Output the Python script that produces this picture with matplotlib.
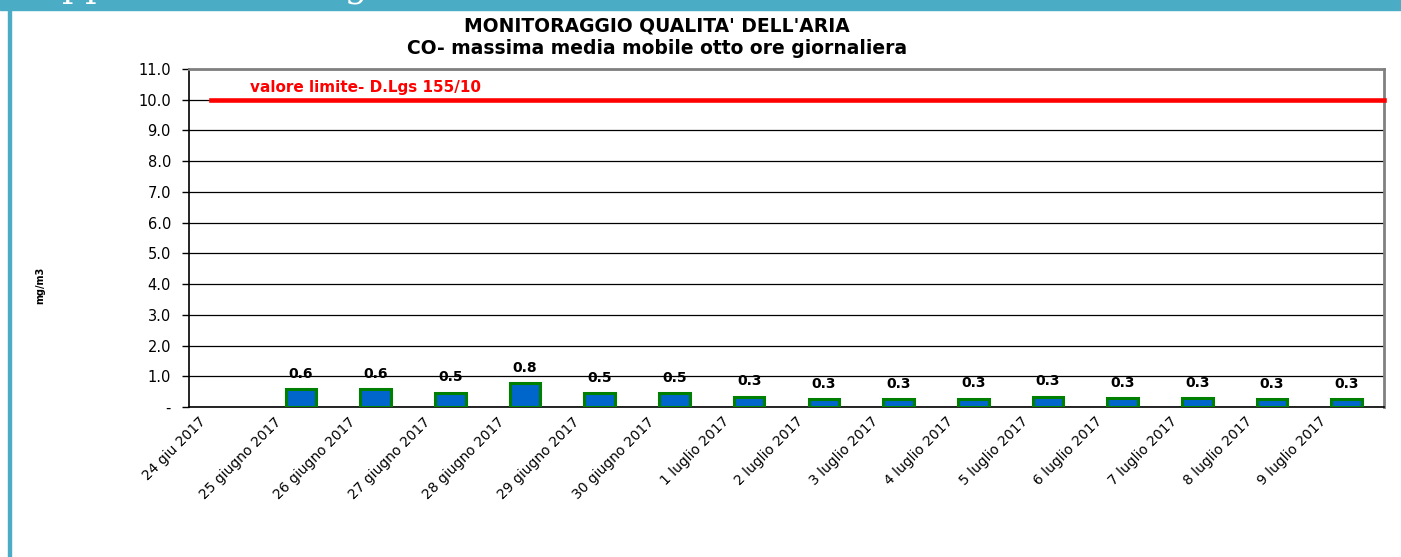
import numpy as np
import matplotlib
matplotlib.use('Agg')
import matplotlib.pyplot as plt
from matplotlib.patches import Rectangle

# dati
giorni = ['24 giu 2017', '25 giugno 2017', '26 giugno 2017', '27 giugno 2017',
          '28 giugno 2017', '29 giugno 2017', '30 giugno 2017', '1 luglio 2017',
          '2 luglio 2017', '3 luglio 2017', '4 luglio 2017', '5 luglio 2017',
          '6 luglio 2017', '7 luglio 2017', '8 luglio 2017', '9 luglio 2017']
co = [np.nan, 0.58, 0.59, 0.47, 0.78, 0.46, 0.46, 0.34,
      0.26, 0.26, 0.27, 0.34, 0.29, 0.29, 0.26, 0.26]
limite = 10.0
yticks = np.arange(0, 12, 1.0)

plt.rcParams['font.family'] = ['DejaVu Sans']

W, H = 1401, 557
fig = plt.figure(figsize=(W / 100, H / 100), dpi=100)

# cornice della pagina
fig.patches.append(Rectangle((0, 1 - 10 / H), 1, 10 / H, transform=fig.transFigure,
                             color='#4BACC6', zorder=0))
fig.patches.append(Rectangle((8 / W, 0), 2.5 / W, 1, transform=fig.transFigure,
                             color='#4BACC6', zorder=0))
fig.text(36 / W, 1 + 4 / H, 'Appendice Immagini', color='white', family='DejaVu Serif',
         fontsize=26, ha='left', va='baseline')

ax = fig.add_axes([189 / W, 1 - 407 / H, (1384 - 189) / W, (407 - 69) / H])

x = np.arange(len(giorni))
ax.bar(x, co, width=0.41, color='#0066CC', edgecolor='#008000', linewidth=2.2, zorder=3)
for i in range(len(co)):
    if not np.isnan(co[i]):
        ax.annotate('%.1f' % co[i], (x[i], co[i]), xytext=(0, 6), textcoords='offset points',
                    ha='center', va='bottom', fontsize=10, fontweight='bold', zorder=4)

# valore limite
ax.axhline(limite, xmin=0.018, xmax=1.0, color='#FF0000', linewidth=3.3, zorder=3, clip_on=False)
ax.text(0.051, 0.945, 'valore limite- D.Lgs 155/10', transform=ax.transAxes, color='#FF0000',
        fontsize=11, fontweight='bold', ha='left', va='center')

ax.set_xlim(-0.5, len(giorni) - 0.5)
ax.set_ylim(0, 11)
ax.set_yticks(yticks)
ax.set_yticklabels(['-' if v == 0 else '%.1f' % v for v in yticks], fontsize=10.5)
ax.tick_params(axis='y', direction='out', length=5, width=1, pad=8)

ax.set_xticks(x - 0.3)
ax.set_xticklabels(giorni, rotation=45, ha='right', va='center', rotation_mode='anchor',
                   fontsize=10)
ax.tick_params(axis='x', length=0, pad=9)

ax.grid(axis='y', color='black', linewidth=0.9, zorder=1)
ax.set_axisbelow(True)
for s in ['top', 'right']:
    ax.spines[s].set_color('#808080')
    ax.spines[s].set_linewidth(2)
for s in ['left', 'bottom']:
    ax.spines[s].set_color('black')
    ax.spines[s].set_linewidth(1.2)

fig.text(657 / W, 1 - 26 / H, "MONITORAGGIO QUALITA' DELL'ARIA",
         ha='center', va='center', fontsize=13.5, fontweight='bold')
fig.text(657 / W, 1 - 48 / H, "CO- massima media mobile otto ore giornaliera",
         ha='center', va='center', fontsize=13.5, fontweight='bold')
fig.text(40 / W, 1 - 285 / H, 'mg/m3', rotation=90, ha='center', va='center',
         fontsize=7, fontweight='bold')

fig.savefig('out.png', dpi=100)
